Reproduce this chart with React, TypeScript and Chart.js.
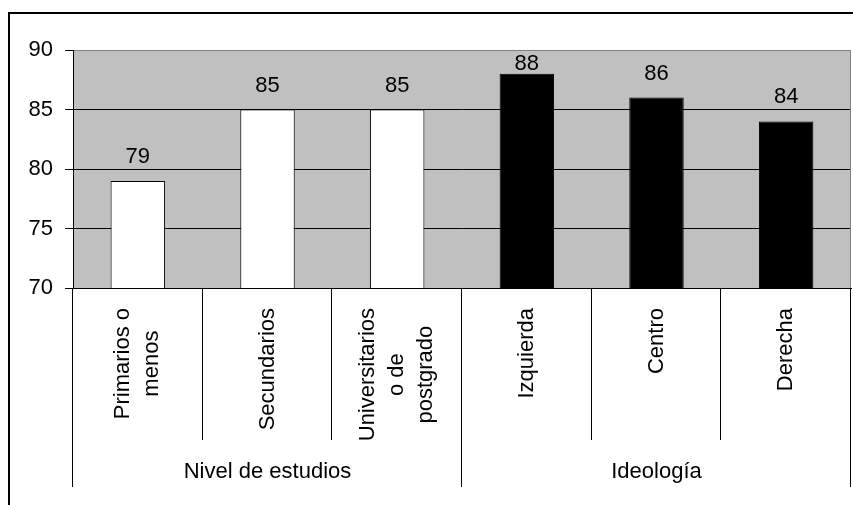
import React, { useEffect, useRef } from "react";
import { Chart, registerables } from "chart.js";

Chart.register(...registerables);

const categoryLines: string[][] = [
  ["Primarios o", "menos"],
  ["Secundarios"],
  ["Universitarios", "o de", "postgrado"],
  ["Izquierda"],
  ["Centro"],
  ["Derecha"],
];
const values: number[] = [79, 85, 85, 88, 86, 84];
const barColors: string[] = ["#ffffff", "#ffffff", "#ffffff", "#000000", "#000000", "#000000"];
const groupNames: string[] = ["Nivel de estudios", "Ideología"];
const groupStarts: number[] = [0, 3];
const groupSizes: number[] = [3, 3];
const yTicks: number[] = [70, 75, 80, 85, 90];

const FONT = '"Liberation Sans", Arial, sans-serif';
const FS = 22;

const decorPlugin = {
  id: "decor",
  beforeDraw(chart: any) {
    const { ctx, chartArea } = chart;
    ctx.save();
    ctx.fillStyle = "#c0c0c0";
    ctx.fillRect(chartArea.left, chartArea.top, chartArea.right - chartArea.left, chartArea.bottom - chartArea.top);
    ctx.restore();
  },
  afterDatasetsDraw(chart: any) {
    const { ctx, chartArea } = chart;
    const meta = chart.getDatasetMeta(0);
    ctx.save();
    ctx.fillStyle = "#000";
    ctx.font = `${FS}px ${FONT}`;
    ctx.textAlign = "center";
    ctx.textBaseline = "alphabetic";
    meta.data.forEach((bar: any, i: number) => {
      const y = Math.max(bar.y - 18, chartArea.top + 20);
      ctx.fillText(String(values[i]), bar.x, y);
    });
    ctx.strokeStyle = "#808080";
    ctx.lineWidth = 1;
    ctx.beginPath();
    ctx.moveTo(Math.round(chartArea.right) - 0.5, chartArea.top);
    ctx.lineTo(Math.round(chartArea.right) - 0.5, chartArea.bottom);
    ctx.stroke();
    ctx.restore();
  },
  afterDraw(chart: any) {
    const { ctx, chartArea, scales } = chart;
    const x = scales.x;
    const n = values.length;
    const bottom = chartArea.bottom;
    const step = (chartArea.right - chartArea.left) / n;
    ctx.save();
    ctx.strokeStyle = "#000";
    ctx.lineWidth = 1;
    for (let i = 0; i <= n; i++) {
      const px = i === n ? chartArea.right : x.getPixelForValue(i) - step / 2;
      const isGroupEdge = i === n || groupStarts.indexOf(i) >= 0;
      const end = isGroupEdge ? bottom + 199 : bottom + 152;
      const xx = Math.round(px) - 0.5;
      ctx.beginPath();
      ctx.moveTo(xx, bottom);
      ctx.lineTo(xx, end);
      ctx.stroke();
    }
    ctx.fillStyle = "#000";
    ctx.font = `${FS}px ${FONT}`;
    ctx.textAlign = "center";
    ctx.textBaseline = "middle";
    const lineH = 29;
    categoryLines.forEach((lines, i) => {
      const cx = x.getPixelForValue(i);
      const maxW = Math.max(...lines.map((l) => ctx.measureText(l).width));
      const cy = bottom + 20 + maxW / 2;
      lines.forEach((line, j) => {
        const off = (j - (lines.length - 1) / 2) * lineH;
        ctx.save();
        ctx.translate(cx + off, cy);
        ctx.rotate(-Math.PI / 2);
        ctx.fillText(line, 0, 0);
        ctx.restore();
      });
    });
    ctx.textBaseline = "alphabetic";
    groupNames.forEach((g, k) => {
      const a = x.getPixelForValue(groupStarts[k]);
      const b = x.getPixelForValue(groupStarts[k] + groupSizes[k] - 1);
      ctx.fillText(g, (a + b) / 2, bottom + 190);
    });
    ctx.lineWidth = 2;
    ctx.beginPath();
    ctx.moveTo(9, 505);
    ctx.lineTo(9, 13);
    ctx.lineTo(853, 13);
    ctx.stroke();
    ctx.restore();
  },
};

export default function App() {
  const ref = useRef<HTMLCanvasElement | null>(null);
  useEffect(() => {
    if (!ref.current) return;
    const chart = new Chart(ref.current, {
      type: "bar",
      data: {
        labels: categoryLines.map((l) => l.join(" ")),
        datasets: [
          {
            data: values,
            backgroundColor: barColors,
            borderColor: "#000",
            borderWidth: 1,
            barPercentage: 0.42,
            categoryPercentage: 1,
          },
        ],
      },
      options: {
        animation: false,
        responsive: true,
        maintainAspectRatio: false,
        layout: { padding: { top: 50, left: 0, right: 2, bottom: 0 } },
        plugins: { legend: { display: false }, tooltip: { enabled: false } },
        scales: {
          x: {
            grid: { display: false },
            border: { display: true, color: "#000" },
            ticks: { display: false },
            afterFit(scale: any) {
              scale.height = 217;
            },
          },
          y: {
            min: 70,
            max: 90,
            afterBuildTicks(scale: any) {
              scale.ticks = yTicks.map((v) => ({ value: v }));
            },
            grid: {
              color: (c: any) => (c.tick && c.tick.value === 90 ? "#808080" : "#000"),
              tickColor: "#000",
              tickLength: 8,
            },
            border: { display: true, color: "#000" },
            ticks: {
              color: "#000",
              font: { family: FONT, size: FS },
              padding: 12,
            },
            afterFit(scale: any) {
              scale.width = 73;
            },
          },
        },
      },
      plugins: [decorPlugin],
    });
    return () => chart.destroy();
  }, []);
  return (
    <div style={{ position: "fixed", left: 0, top: 0, width: 853, height: 505, background: "#fff" }}>
      <canvas ref={ref} />
    </div>
  );
}
